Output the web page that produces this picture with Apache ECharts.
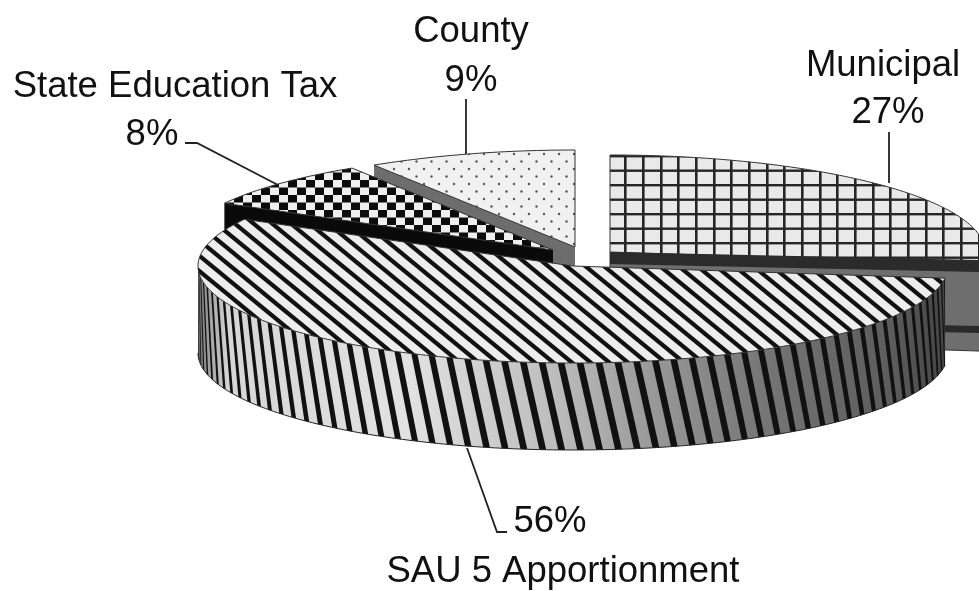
<!DOCTYPE html>
<html><head><meta charset="utf-8">
<style>html,body{margin:0;padding:0;background:#fff}#c{width:979px;height:591px;filter:blur(0.55px)}</style>
<script src="https://cdn.jsdelivr.net/npm/echarts@6/dist/echarts.min.js"></script>
</head><body><div id="c"></div>
<script>
// Data, clockwise from 12 o'clock
const categories = ['Municipal', 'SAU 5 Apportionment', 'State Education Tax', 'County'];
const percents = [27, 56, 8, 9];
const drawOrder = [0, 3, 2, 1];

// Layout
const RX = 375, RY = 97, DEPTH = 87;
const centers = [[610, 252], [573, 266], [553, 250], [575, 247]];
const FONT = '36.5px "Liberation Sans", Arial, sans-serif';
const labels = [
  {name: [883, 66], pct: [888, 113], line: [[889, 132], [889, 183]]},
  {name: [563, 572], pct: [550, 522], line: [[467, 448], [497, 532], [507, 532]]},
  {name: [175, 87], pct: [152, 135], line: [[185, 143], [197, 143], [278, 185]]},
  {name: [471, 32], pct: [471, 81], line: [[466, 99], [466, 154]]}
];

function tile(w, h, draw) {
  const c = document.createElement('canvas');
  c.width = w; c.height = h;
  const g = c.getContext('2d');
  draw(g, w, h);
  return {image: c, repeat: 'repeat'};
}
const patGrid = tile(53, 87, (g, w, h) => {
  g.fillStyle = '#e9e9e9'; g.fillRect(0, 0, w, h);
  g.fillStyle = '#262626';
  for (let i = 0; i < 3; i++) g.fillRect(Math.round(i * 53 / 3) + 6, 0, 2.6, h);
  for (let i = 0; i < 6; i++) g.fillRect(0, i * 14.5 + 10, w, 2.4);
});
const patStripe = tile(56, 46, (g, w, h) => {
  g.fillStyle = '#ededed'; g.fillRect(0, 0, w, h);
  g.strokeStyle = '#111'; g.lineWidth = 4.2;
  for (let k = -9; k <= 9; k++) {
    g.beginPath();
    g.moveTo(k * 56 / 3 - 56, -46); g.lineTo(k * 56 / 3 + 112, 92); g.stroke();
  }
});
const patCheck = tile(18, 15, (g, w, h) => {
  g.fillStyle = '#efefef'; g.fillRect(0, 0, w, h);
  g.fillStyle = '#0c0c0c';
  g.fillRect(0, 0, 9, 7.5); g.fillRect(9, 7.5, 9, 7.5);
});
const patDots = tile(30, 30, (g, w, h) => {
  g.fillStyle = '#f1f1f1'; g.fillRect(0, 0, w, h);
  g.fillStyle = '#555';
  [[4, 4], [19, 4], [11.5, 11.5], [26.5, 11.5], [4, 19], [19, 19], [11.5, 26.5], [26.5, 26.5]]
    .forEach(p => { g.beginPath(); g.arc(p[0], p[1], 1.2, 0, 7); g.fill(); });
});
const facePatterns = [patGrid, patStripe, patCheck, patDots];
const cutColors = ['#6e6e6e', '#333', '#0a0a0a', '#6d6d6d'];

const rad = d => d * Math.PI / 180;
const pt = (c, deg, dy) => [c[0] + RX * Math.sin(rad(deg)), c[1] - RY * Math.cos(rad(deg)) + (dy || 0)];
function arc(c, a, b, dy) {
  const out = [], n = Math.max(2, Math.ceil(Math.abs(b - a)));
  for (let i = 0; i <= n; i++) out.push(pt(c, a + (b - a) * i / n, dy));
  return out;
}

function renderSlice(params, api) {
  const i = api.value(0);
  let start = 0;
  for (let k = 0; k < i; k++) start += percents[k];
  const a = start * 3.6, b = (start + percents[i]) * 3.6;
  const c = centers[i];
  const kids = [];
  const after = [];

  if (i === 0) {
    const e = pt(c, b, 0);
    kids.push({type: 'polygon', shape: {points: [c, e, [e[0], e[1] + DEPTH], [c[0], c[1] + DEPTH]]},
      style: {fill: cutColors[0], stroke: '#333', lineWidth: 1}});
    [[0, 12], [66, 73]].forEach(r => {
      after.push({type: 'polygon',
        shape: {points: [[c[0], c[1] + r[0]], [e[0], e[1] + r[0] - 4], [e[0], e[1] + r[1] - 4], [c[0], c[1] + r[1]]]},
        style: {fill: '#2b2b2b'}});
    });
  } else if (i === 2 || i === 3) {
    const far = pt(c, a, 0);
    kids.push({type: 'polygon', shape: {points: [far, c, [c[0], c[1] + DEPTH], [far[0], far[1] + DEPTH]]},
      style: {fill: cutColors[i]}});
  } else {
    const w0 = a, w1 = 270;
    const top = arc(c, w0, w1, 0), bot = arc(c, w1, w0, DEPTH);
    kids.push({type: 'polygon', shape: {points: top.concat(bot)},
      style: {fill: {type: 'linear', x: 0, y: 0, x2: 1, y2: 0, colorStops: [
        {offset: 0, color: '#666'}, {offset: 0.012, color: '#999'}, {offset: 0.04, color: '#d6d6d6'},
        {offset: 0.28, color: '#e2e2e2'}, {offset: 0.48, color: '#bcbcbc'}, {offset: 0.6, color: '#9b9b9b'},
        {offset: 0.76, color: '#757575'}, {offset: 0.93, color: '#5c5c5c'}, {offset: 1, color: '#444'}]}}});
    const period = 2.9, width = 1.05, shear = 3;
    for (let t = w0; t < w1 + shear; t += period) {
      const t0 = Math.max(w0, Math.min(w1, t)), t1 = Math.max(w0, Math.min(w1, t + width));
      const b0 = Math.max(w0, Math.min(w1, t - shear)), b1 = Math.max(w0, Math.min(w1, t + width - shear));
      if (t1 - t0 <= 0 && b1 - b0 <= 0) continue;
      kids.push({type: 'polygon', shape: {points: [pt(c, t0), pt(c, t1), pt(c, b1, DEPTH), pt(c, b0, DEPTH)]},
        style: {fill: '#111'}});
    }
    kids.push({type: 'polyline', shape: {points: bot}, style: {fill: 'none', stroke: '#222', lineWidth: 1}});
  }

  // Top face
  kids.push({type: 'polygon', shape: {points: [c].concat(arc(c, a, b, 0))},
    style: {fill: facePatterns[i], stroke: '#333', lineWidth: 1}});
  after.forEach(k => kids.push(k));

  // Leader line and labels
  const L = labels[i];
  kids.push({type: 'polyline', shape: {points: L.line}, style: {fill: 'none', stroke: '#222', lineWidth: 1.8}});
  const textStyle = (s, p) => ({text: s, x: p[0], y: p[1], font: FONT, fill: '#111',
    textAlign: 'center', textVerticalAlign: 'middle', align: 'center', verticalAlign: 'middle'});
  kids.push({type: 'text', style: textStyle(categories[i], L.name)});
  kids.push({type: 'text', style: textStyle(percents[i] + '%', L.pct)});
  return {type: 'group', children: kids};
}

const chart = echarts.init(document.getElementById('c'), null, {renderer: 'canvas'});
chart.setOption({
  backgroundColor: '#fff',
  animation: false,
  series: [{
    type: 'custom',
    coordinateSystem: 'none',
    silent: true,
    clip: false,
    data: drawOrder.map(i => [i]),
    renderItem: renderSlice
  }]
});
</script></body></html>
